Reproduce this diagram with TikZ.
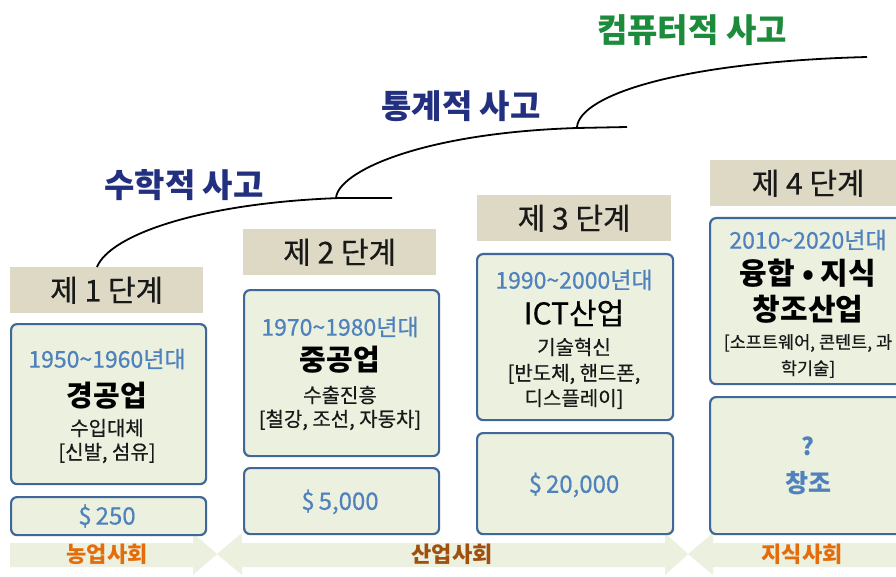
\documentclass[tikz,border=0pt]{standalone}
\usepackage{fontspec}
\setmainfont{Noto Sans CJK KR}
\newfontfamily\medfont{Noto Sans CJK KR}[FakeBold=0.5]
\definecolor{hdrfill}{HTML}{DDD9C4}
\definecolor{boxfill}{HTML}{EBF0DF}
\definecolor{boxdraw}{HTML}{3F6797}
\definecolor{bluetxt}{HTML}{4F81BD}
\definecolor{orangetxt}{HTML}{E46C0A}
\definecolor{browntxt}{HTML}{A0500E}
\definecolor{navyhand}{HTML}{22307F}
\definecolor{greenhand}{HTML}{1C8C3C}
\definecolor{bandfill}{HTML}{EBF0DF}
\tikzset{
  hdr/.style={fill=hdrfill, inner sep=0pt, anchor=north west, minimum height=46pt,
    font=\medfont\fontsize{30}{34}\selectfont, text=black!90},
  stagebox/.style={draw=boxdraw, line width=2.2pt, fill=boxfill, rounded corners=6pt,
    inner sep=0pt, anchor=north west},
  yr/.style={text=bluetxt, font=\medfont\fontsize{23}{26}\selectfont, inner sep=0pt},
  ind/.style={text=black, font=\fontsize{29}{33}\selectfont\bfseries, inner sep=0pt},
  sub/.style={text=black!90, font=\medfont\fontsize{20}{23}\selectfont, inner sep=0pt},
  money/.style={text=bluetxt, font=\medfont\fontsize{24}{27}\selectfont, inner sep=0pt},
  soc/.style={font=\fontsize{22}{25}\selectfont\bfseries, inner sep=0pt},
  hand/.style={font=\fontsize{33}{37}\selectfont\bfseries, inner sep=0pt},
  curve/.style={line width=1.8pt, black}
}
\begin{document}
\begin{tikzpicture}[x=1pt,y=-1pt]
\useasboundingbox (0,0) rectangle (896,577);
\clip (0,0) rectangle (896,577);
\fill[white] (0,0) rectangle (896,577);

% bottom bands
\fill[bandfill] (10,543) -- (193,543) -- (193,533) -- (217,554) -- (193,575) -- (193,567) -- (10,567) -- cycle;
\fill[bandfill] (217,554) -- (242,533) -- (242,543) -- (665,543) -- (665,533) -- (688,554) -- (665,575) -- (665,567) -- (242,567) -- (242,575) -- cycle;
\fill[bandfill] (688,554) -- (713,533) -- (713,543) -- (900,543) -- (900,567) -- (713,567) -- (713,575) -- cycle;
\node[soc, text=orangetxt] (s1) at (107,554) {농업사회};
\node[soc, text=browntxt] (s2) at (452,554) {산업사회};
\node[soc, text=orangetxt] (s3) at (802,554) {지식사회};

% stage 1
\node[hdr, minimum width=193pt] (h1) at (10,267) {제 1 단계};
\node[stagebox, minimum width=195pt, minimum height=160pt] (b1) at (10,323) {};
\node[stagebox, minimum width=195pt, minimum height=38pt] (d1) at (10,496) {};
\node[yr] (y1) at (107,359) {1950\textasciitilde1960년대};
\node[ind] (i1) at (107,396) {경공업};
\node[sub] (t1) at (107,428) {수입대체};
\node[sub] (u1) at (107,453) {[신발, 섬유]};
\node[money] (m1) at (107,516) {\$\,250};

% stage 2
\node[hdr, minimum width=193pt] (h2) at (243,229) {제 2 단계};
\node[stagebox, minimum width=195pt, minimum height=166pt] (b2) at (243,289) {};
\node[stagebox, minimum width=195pt, minimum height=66pt] (d2) at (243,467) {};
\node[yr] (y2) at (340,327) {1970\textasciitilde1980년대};
\node[ind] (i2) at (340,360) {중공업};
\node[sub] (t2) at (340,395) {수출진흥};
\node[sub] (u2) at (340,420) {[철강, 조선, 자동차]};
\node[money] (m2) at (340,502) {\$\,5,000};

% stage 3
\node[hdr, minimum width=194pt] (h3) at (477,195) {제 3 단계};
\node[stagebox, minimum width=196pt, minimum height=166pt] (b3) at (476,253) {};
\node[stagebox, minimum width=196pt, minimum height=101pt] (d3) at (476,432) {};
\node[yr] (y3) at (574,280) {1990\textasciitilde2000년대};
\node[ind, font=\medfont\fontsize{30}{34}\selectfont] (i3) at (574,313) {ICT산업};
\node[sub] (t3) at (574,347) {기술혁신};
\node[sub] (u3) at (574,374) {[반도체, 핸드폰,};
\node[sub] (v3) at (574,399) {디스플레이]};
\node[money] (m3) at (574,485) {\$\,20,000};

% stage 4
\node[hdr, minimum width=196pt] (h4) at (710,160) {제 4 단계};
\node[stagebox, minimum width=198pt, minimum height=166pt] (b4) at (709,217) {};
\node[stagebox, minimum width=198pt, minimum height=137pt] (d4) at (709,396) {};
\node[yr] (y4) at (808,240) {2010\textasciitilde2020년대};
\node[ind, font=\fontsize{30}{34}\selectfont\bfseries] (i4) at (808,273) {융합 • 지식};
\node[ind, font=\fontsize{30}{34}\selectfont\bfseries] (j4) at (808,309) {창조산업};
\node[sub, font=\medfont\fontsize{17.5}{20}\selectfont] (t4) at (808,343) {[소프트웨어, 콘텐트, 과};
\node[sub, font=\medfont\fontsize{17.5}{20}\selectfont] (u4) at (808,369) {학기술]};
\node[money, font=\fontsize{24}{27}\selectfont\bfseries] (q4) at (808,446) {?};
\node[money, font=\fontsize{25}{29}\selectfont\bfseries] (m4) at (808,483) {창조};

% thinking curves
\coordinate (c1s) at (97,267);
\coordinate (c1e) at (340,198);
\coordinate (c1f) at (392,198);
\coordinate (c2s) at (336,198);
\coordinate (c2e) at (577,128);
\coordinate (c2f) at (627,127);
\coordinate (c3s) at (577,127);
\coordinate (c3e) at (867,57);
\draw[curve] (c1s) .. controls (110,235) and (200,203) .. (c1e) -- (c1f);
\draw[curve] (c2s) .. controls (338,172) and (420,133) .. (c2e) -- (c2f);
\draw[curve] (c3s) .. controls (580,95) and (680,62) .. (c3e);

\node[hand, text=navyhand] (l1) at (184,185) {수학적 사고};
\node[hand, text=navyhand] (l2) at (461,106) {통계적 사고};
\node[hand, text=greenhand] (l3) at (692,30) {컴퓨터적 사고};
\end{tikzpicture}
\end{document}
